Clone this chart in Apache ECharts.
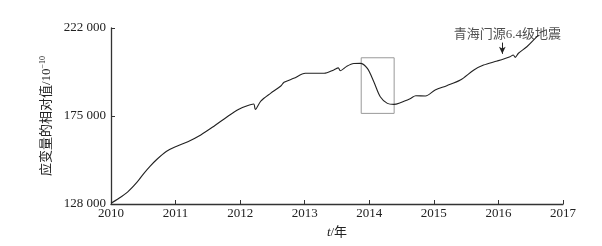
<!DOCTYPE html>
<html><head><meta charset="utf-8">
<script src="https://cdn.jsdelivr.net/npm/echarts@6/dist/echarts.min.js"></script>
<style>html,body{margin:0;padding:0;background:#fff}#c{width:602px;height:246px}</style>
</head><body><div id="c"></div>
<script>
var times = [2010.0,2010.1,2010.26,2010.4,2010.51,2010.6,2010.7,2010.85,2011.0,2011.19,2011.39,2011.6,2011.8,2011.98,2012.11,2012.21,2012.235,2012.32,2012.47,2012.63,2012.68,2012.83,2013.01,2013.3,2013.45,2013.52,2013.55,2013.65,2013.76,2013.86,2013.97,2014.07,2014.17,2014.28,2014.38,2014.48,2014.64,2014.72,2014.87,2015.02,2015.2,2015.41,2015.62,2015.77,2015.98,2016.18,2016.23,2016.26,2016.31,2016.44,2016.57,2016.62];
var values = [128400,130500,134500,139500,144400,148000,151500,155900,158600,161300,164900,169700,174600,178600,180500,181400,178500,183000,187100,191000,193000,195100,197800,197800,199600,200700,199200,201500,203000,203100,200400,193300,185300,181750,181200,182100,184400,185800,185700,188900,191200,194200,199600,202200,204400,206700,207600,206300,208500,212000,216500,218200];
var yTicks = [128000,175000,222000];
var xTicks = [2010,2011,2012,2013,2014,2015,2016,2017];
var boxRange = [[2013.875,206100],[2014.385,176400]];
var quakeTime = 2016.06;
var arrowRange = [214200,208200];
var quakeLabel = '青海门源6.4级地震';
var quakeLabelPos = [2016.14,218400];

var serif = 'Liberation Serif, Times New Roman, Noto Sans CJK SC, serif';
function fmt(v){ var s=String(v); return s.slice(0,s.length-3)+' '+s.slice(-3); }
var chart = echarts.init(document.getElementById('c'));
chart.setOption({
  animation:false,
  grid:{left:111,right:39,top:28,bottom:42},
  xAxis:{type:'value',min:2010,max:2017,interval:1,
    axisLine:{lineStyle:{color:'#333',width:1.3}},
    axisTick:{inside:true,length:4,lineStyle:{color:'#333'}},
    axisLabel:{color:'#222',fontFamily:serif,fontSize:13,margin:3,formatter:function(v){return String(v);}},
    splitLine:{show:false},
    name:'{i|t}/年',nameLocation:'middle',nameGap:22,
    nameTextStyle:{color:'#222',fontFamily:serif,fontSize:13,rich:{i:{fontStyle:'italic',fontFamily:serif,fontSize:13,color:'#222'}}}
  },
  yAxis:{type:'value',min:128000,max:222000,
    axisLine:{show:true,lineStyle:{color:'#333',width:1.3}},
    axisTick:{show:true,inside:true,length:4,customValues:yTicks,lineStyle:{color:'#333'}},
    axisLabel:{color:'#222',fontFamily:serif,fontSize:13,margin:5,customValues:yTicks,formatter:function(v){return fmt(v);}},
    splitLine:{show:false},
    name:'应变量的相对值/10{sup|−10}',nameLocation:'middle',nameGap:57,nameRotate:90,
    nameTextStyle:{color:'#222',fontFamily:serif,fontSize:13,
      rich:{sup:{fontFamily:serif,fontSize:8,color:'#222',padding:[0,0,7,0]}}}
  },
  series:[{
    type:'line',smooth:0.3,symbol:'none',
    data:times.map(function(t,i){return [t,values[i]];}),
    lineStyle:{color:'#222',width:1.1},
    markArea:{silent:true,itemStyle:{color:'rgba(0,0,0,0)',borderColor:'#999',borderWidth:1},
      data:[[{coord:boxRange[0]},{coord:boxRange[1]}]]},
    markLine:{silent:true,symbol:['none','arrow'],symbolSize:[5,7],
      lineStyle:{color:'#222',width:1,type:'solid'},label:{show:false},
      data:[[{coord:[quakeTime,arrowRange[0]]},{coord:[quakeTime,arrowRange[1]]}]]}
  },{
    type:'scatter',symbolSize:0,silent:true,
    data:[quakeLabelPos],
    label:{show:true,position:'inside',formatter:quakeLabel,color:'#222',fontFamily:serif,fontSize:13}
  }]
});
</script></body></html>
